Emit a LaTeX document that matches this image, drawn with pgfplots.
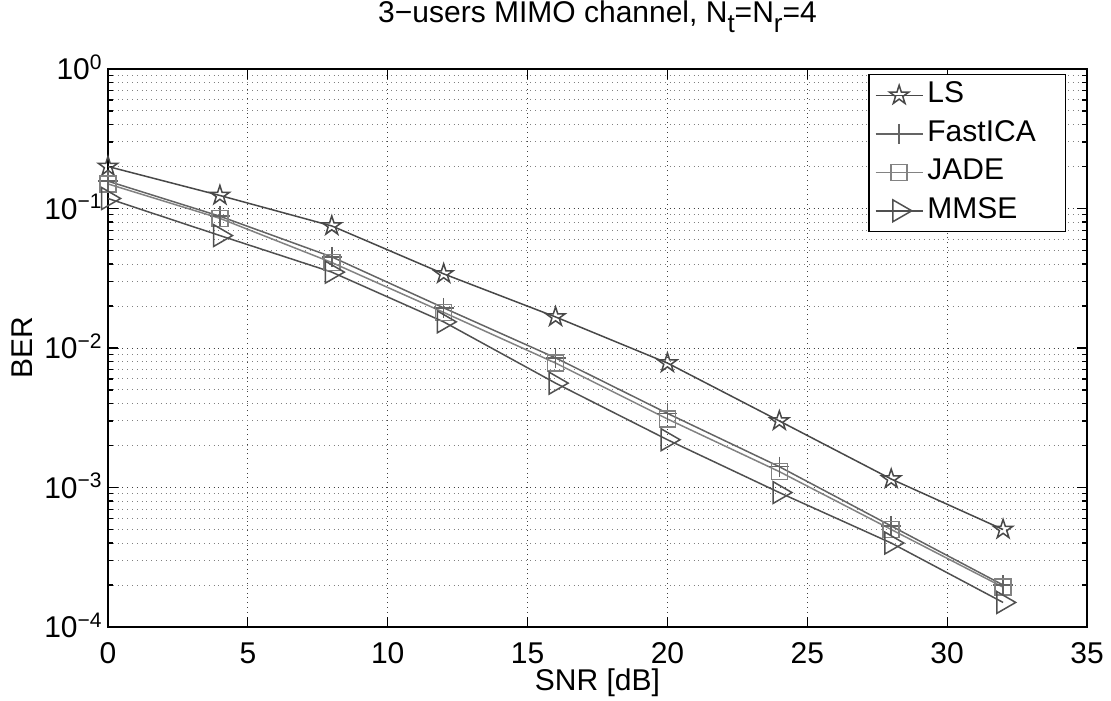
\documentclass[border=0pt]{standalone}
\usepackage{pgfplots}
\pgfplotsset{compat=1.18}
\usepackage{fontspec}
\setmainfont{Liberation Sans}
\usetikzlibrary{calc}
\definecolor{cLS}{RGB}{72,72,72}
\definecolor{cICA}{RGB}{100,100,100}
\definecolor{cJADE}{RGB}{130,130,130}
\definecolor{cMMSE}{RGB}{80,80,80}
\pgfdeclareplotmark{pentagram}{%
  \pgfpathmoveto{\pgfpointpolar{90}{\pgfplotmarksize}}%
  \pgfpathlineto{\pgfpointpolar{126}{0.382\pgfplotmarksize}}%
  \pgfpathlineto{\pgfpointpolar{162}{\pgfplotmarksize}}%
  \pgfpathlineto{\pgfpointpolar{198}{0.382\pgfplotmarksize}}%
  \pgfpathlineto{\pgfpointpolar{234}{\pgfplotmarksize}}%
  \pgfpathlineto{\pgfpointpolar{270}{0.382\pgfplotmarksize}}%
  \pgfpathlineto{\pgfpointpolar{306}{\pgfplotmarksize}}%
  \pgfpathlineto{\pgfpointpolar{342}{0.382\pgfplotmarksize}}%
  \pgfpathlineto{\pgfpointpolar{18}{\pgfplotmarksize}}%
  \pgfpathlineto{\pgfpointpolar{54}{0.382\pgfplotmarksize}}%
  \pgfpathclose
  \pgfusepathqstroke
}
\newcommand{\lgd}[1]{\makebox[64pt][l]{#1}}
\begin{document}
\fontsize{15}{18}\selectfont
\begin{tikzpicture}
\begin{semilogyaxis}[
  name=ax,
  scale only axis,
  width=489.5pt, height=279pt,
  xmin=0, xmax=35, ymin=1e-4, ymax=1,
  xtick={0,5,...,35},
  ytick={1e-4,1e-3,1e-2,1e-1,1},
  yticklabels={10\textsuperscript{−4},10\textsuperscript{−3},10\textsuperscript{−2},10\textsuperscript{−1},10\textsuperscript{0}},
  /pgf/number format/assume math mode=true,
  tick align=inside,
  major tick length=5pt,
  minor tick length=2.5pt,
  axis line style={line width=0.8pt},
  every tick/.style={black, line width=0.6pt},
  grid=both,
  xminorgrids=false,
  major grid style={dotted, color=black!75, line width=0.5pt},
  minor grid style={dotted, color=black!50, line width=0.5pt},
  ticklabel style={font=\fontsize{15}{18}\selectfont},
  xticklabel style={anchor=north, inner sep=0pt, yshift=-7.5pt},
  yticklabel style={anchor=base east, inner sep=0pt, xshift=-2.5pt, yshift=-5.4pt},
  title={3−users MIMO channel, N\raisebox{-0.6ex}{\fontsize{13}{15}\selectfont t}=N\raisebox{-0.6ex}{\fontsize{13}{15}\selectfont r}=4},
  title style={at={(axis description cs:0.5,1)}, anchor=base, yshift=17pt, font=\fontsize{15}{18}\selectfont},
  xlabel={SNR [dB]},
  xlabel style={at={(axis description cs:0.5,0)}, anchor=base, yshift=-31.5pt, font=\fontsize{15}{18}\selectfont},
  ylabel={BER},
  ylabel style={at={(axis description cs:0,0.5)}, anchor=center, xshift=0pt, yshift=43pt, font=\fontsize{15}{18}\selectfont},
  legend cell align=left,
  legend style={at={(rel axis cs:1,1)}, anchor=north east, xshift=-10.5pt, yshift=-2.5pt,
    draw=black, line width=0.6pt, inner xsep=3pt, inner ysep=1.1pt,
    font=\fontsize{15}{18}\selectfont, row sep=0.75pt,
    nodes={inner sep=2pt, text height=11pt, text depth=3.5pt}},
  legend image code/.code={\draw[mark repeat=2,mark phase=2,#1] plot coordinates {(0pt,0pt) (11.75pt,0pt) (23.5pt,0pt)};},
  every axis plot/.append style={line width=0.75pt},
]
\addplot[color=cLS, mark=pentagram, mark size=5pt, mark options={solid, line width=0.75pt}] coordinates {
 (0,0.2) (4,0.124) (8,0.075) (12,0.034) (16,0.0167) (20,0.0078) (24,0.0030) (28,0.00115) (32,0.0005)};
\addlegendentry{\lgd{LS}}
\addplot[color=cICA, mark=+, mark size=5pt] coordinates {
 (0,0.157) (4,0.088) (8,0.045) (12,0.0194) (16,0.0085) (20,0.0034) (24,0.00141) (28,0.00053) (32,0.0002)};
\addlegendentry{\lgd{FastICA}}
\addplot[color=cJADE, mark=square, mark size=4pt] coordinates {
 (0,0.15) (4,0.085) (8,0.041) (12,0.018) (16,0.0078) (20,0.0031) (24,0.0013) (28,0.0005) (32,0.000193)};
\addlegendentry{\lgd{JADE}}
\addplot[color=cMMSE, mark=triangle, mark size=6.3pt, mark options={rotate=-90}] coordinates {
 (0,0.118) (4,0.064) (8,0.035) (12,0.0154) (16,0.0056) (20,0.0022) (24,0.00092) (28,0.0004) (32,0.00015)};
\addlegendentry{\lgd{MMSE}}
\end{semilogyaxis}
\pgfresetboundingbox
\path ($(ax.south west)+(-54pt,-36.5pt)$) rectangle ($(ax.north east)+(12pt,34.5pt)$);
\end{tikzpicture}
\end{document}
